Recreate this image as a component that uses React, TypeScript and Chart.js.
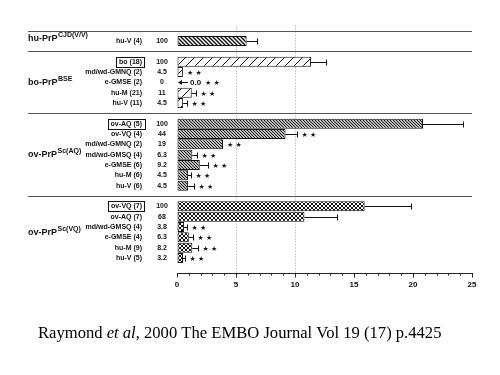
import React, { useEffect, useRef } from 'react';
import { Chart, registerables } from 'chart.js';

Chart.register(...registerables);

const groupNames = ['hu-PrP', 'bo-PrP', 'ov-PrP', 'ov-PrP'];
const groupSups = ['CJD(V/V)', 'BSE', 'Sc(AQ)', 'Sc(VQ)'];
const groupSizes = [1, 5, 7, 6];
const rowLabels = [
  'hu-V (4)',
  'bo (18)', 'md/wd-GMNQ (2)', 'e-GMSE (2)', 'hu-M (21)', 'hu-V (11)',
  'ov-AQ (5)', 'ov-VQ (4)', 'md/wd-GMNQ (2)', 'md/wd-GMSQ (4)', 'e-GMSE (6)', 'hu-M (6)', 'hu-V (6)',
  'ov-VQ (7)', 'ov-AQ (7)', 'md/wd-GMSQ (4)', 'e-GMSE (4)', 'hu-M (9)', 'hu-V (5)',
];
const percentLabels = [
  '100',
  '100', '4.5', '0', '11', '4.5',
  '100', '44', '19', '6.3', '9.2', '4.5', '4.5',
  '100', '68', '3.8', '6.3', '8.2', '3.2',
];
const means = [
  5.9,
  11.35, 0.5, 0, 1.25, 0.52,
  20.85, 9.2, 3.9, 1.3, 1.93, 0.94, 0.94,
  15.9, 10.8, 0.6, 1.0, 1.3, 0.51,
];
const errorTops: (number | null)[] = [
  6.8,
  12.6, null, null, 1.65, 0.85,
  24.2, 10.2, null, 1.7, 2.6, 1.2, 1.4,
  19.8, 13.6, 0.85, 1.35, 1.8, 0.7,
];
const significant = [
  false,
  false, true, true, true, true,
  false, true, true, true, true, true, true,
  false, false, true, true, true, true,
];
const references = [
  false,
  true, false, false, false, false,
  true, false, false, false, false, false, false,
  true, false, false, false, false, false,
];
const xTicks = [0, 5, 10, 15, 20, 25];
const caption = ['Raymond ', 'et al', ', 2000 The EMBO Journal Vol 19 (17) p.4425'];

// category layout: spacer before each group and one at the end
const categories: string[] = [];
const rowCat: number[] = [];
const rowGroup: number[] = [];
{
  let r = 0;
  groupSizes.forEach((n, g) => {
    categories.push('');
    for (let i = 0; i < n; i++) {
      rowCat.push(categories.length);
      rowGroup.push(g);
      categories.push(rowLabels[r]);
      r++;
    }
  });
  categories.push('');
}
const catValues: (number | null)[] = categories.map(() => null);
const catGroup: number[] = categories.map(() => -1);
rowCat.forEach((c, r) => {
  catValues[c] = means[r];
  catGroup[c] = rowGroup[r];
});

const SANS = '"Liberation Sans", Arial, sans-serif';

function makePattern(kind: number): CanvasPattern | string {
  const t = document.createElement('canvas');
  const size = kind === 1 ? 9 : kind === 2 ? 3 : 4;
  t.width = size;
  t.height = size;
  const c = t.getContext('2d');
  if (!c) return '#fff';
  c.fillStyle = '#fff';
  c.fillRect(0, 0, size, size);
  c.strokeStyle = '#111';
  c.lineWidth = kind === 0 ? 1.4 : kind === 2 ? 1.1 : 1;
  const back = () => {
    c.beginPath();
    c.moveTo(-1, -1); c.lineTo(size + 1, size + 1);
    c.moveTo(-1, size - 1); c.lineTo(1, size + 1);
    c.moveTo(size - 1, -1); c.lineTo(size + 1, 1);
    c.stroke();
  };
  const fwd = () => {
    c.beginPath();
    c.moveTo(-1, size + 1); c.lineTo(size + 1, -1);
    c.moveTo(-1, 1); c.lineTo(1, -1);
    c.moveTo(size - 1, size + 1); c.lineTo(size + 1, size - 1);
    c.stroke();
  };
  if (kind === 0 || kind === 2) back();
  if (kind === 1) fwd();
  if (kind === 3) { back(); fwd(); }
  return c.createPattern(t, 'repeat') || '#fff';
}

const overlay = {
  id: 'overlay',
  afterDraw(chart: any) {
    const ctx: CanvasRenderingContext2D = chart.ctx;
    const xs = chart.scales.x;
    const ys = chart.scales.y;
    const area = chart.chartArea;
    ctx.save();

    // separators
    ctx.strokeStyle = '#555';
    ctx.lineWidth = 1;
    categories.forEach((c, i) => {
      if (c === '' && i < categories.length - 1) {
        const py = Math.round(ys.getPixelForValue(i)) + 0.5;
        ctx.beginPath();
        ctx.moveTo(28, py);
        ctx.lineTo(area.right, py);
        ctx.stroke();
      }
    });

    // minor ticks
    ctx.strokeStyle = '#222';
    for (let v = 0; v <= 25; v++) {
      if (v % 5 === 0) continue;
      const px = Math.round(xs.getPixelForValue(v)) + 0.5;
      ctx.beginPath();
      ctx.moveTo(px, area.bottom);
      ctx.lineTo(px, area.bottom + 2);
      ctx.stroke();
    }

    // row labels, percentages, boxes
    ctx.fillStyle = '#111';
    ctx.textBaseline = 'middle';
    rowLabels.forEach((lab, r) => {
      const py = ys.getPixelForValue(rowCat[r]);
      ctx.font = `bold 7px ${SANS}`;
      ctx.textAlign = 'right';
      ctx.fillText(lab, 142, py);
      if (references[r]) {
        const w = ctx.measureText(lab).width;
        ctx.lineWidth = 1;
        ctx.strokeStyle = '#111';
        ctx.strokeRect(Math.round(142 - w - 3) + 0.5, Math.round(py - 5) + 0.5, Math.round(w + 5), 10);
      }
      ctx.textAlign = 'center';
      ctx.fillText(percentLabels[r], 162, py);
    });

    // group labels
    groupNames.forEach((name, g) => {
      const ys_ = rowCat.filter((_, r) => rowGroup[r] === g).map((c) => ys.getPixelForValue(c));
      const py = ys_.reduce((a, b) => a + b, 0) / ys_.length - (ys_.length === 1 ? 2 : 0);
      ctx.textAlign = 'left';
      ctx.font = `bold 9px ${SANS}`;
      ctx.fillText(name, 28, py);
      const w = ctx.measureText(name).width;
      ctx.font = `bold 7px ${SANS}`;
      ctx.fillText(groupSups[g], 28 + w + 0.5, py - 3.5);
    });

    // error bars, stars, zero marker
    const x0 = xs.getPixelForValue(0);
    means.forEach((m, r) => {
      const py = Math.round(ys.getPixelForValue(rowCat[r])) + 0.5;
      let end = xs.getPixelForValue(m);
      ctx.strokeStyle = '#111';
      ctx.fillStyle = '#111';
      ctx.lineWidth = 1;
      const e = errorTops[r];
      if (e !== null) {
        const ex = Math.round(xs.getPixelForValue(e)) + 0.5;
        ctx.beginPath();
        ctx.moveTo(end, py);
        ctx.lineTo(ex, py);
        ctx.moveTo(ex, py - 3);
        ctx.lineTo(ex, py + 3);
        ctx.stroke();
        end = ex;
      }
      if (m === 0) {
        ctx.beginPath();
        ctx.moveTo(x0 + 2, py);
        ctx.lineTo(x0 + 11, py);
        ctx.stroke();
        ctx.beginPath();
        ctx.moveTo(x0 + 1, py);
        ctx.lineTo(x0 + 5, py - 2.5);
        ctx.lineTo(x0 + 5, py + 2.5);
        ctx.closePath();
        ctx.fill();
        ctx.font = `bold 8px ${SANS}`;
        ctx.textAlign = 'left';
        ctx.fillText('0.0', x0 + 13, py);
        end = x0 + 13 + ctx.measureText('0.0').width;
      }
      if (significant[r]) {
        ctx.font = `7px "DejaVu Sans"`;
        ctx.textAlign = 'left';
        ctx.fillText('★ ★', end + 4, py + 0.5);
      }
    });

    // caption
    ctx.textBaseline = 'alphabetic';
    ctx.textAlign = 'left';
    ctx.fillStyle = '#000';
    let cx = 38;
    caption.forEach((part, i) => {
      ctx.font = `${i === 1 ? 'italic ' : ''}16.6px "Liberation Serif", "Times New Roman", serif`;
      ctx.fillText(part, cx, 338);
      cx += ctx.measureText(part).width;
    });
    ctx.restore();
  },
};

export default function App() {
  const ref = useRef<HTMLCanvasElement | null>(null);
  useEffect(() => {
    document.body.style.margin = '0';
    const canvas = ref.current;
    if (!canvas) return;
    const patterns = [0, 1, 2, 3].map((k) => makePattern(k));
    const chart = new Chart(canvas, {
      type: 'bar',
      data: {
        labels: categories,
        datasets: [
          {
            data: catValues,
            backgroundColor: (c: any) => {
              const g = catGroup[c.dataIndex];
              return g >= 0 ? patterns[g] : '#fff';
            },
            borderColor: '#111',
            borderWidth: (c: any) => (catValues[c.dataIndex] ? 1 : 0),
            borderSkipped: false,
            barPercentage: 0.97,
            categoryPercentage: 1,
          } as any,
        ],
      },
      options: {
        indexAxis: 'y',
        animation: false,
        responsive: false,
        devicePixelRatio: 1,
        layout: { padding: { left: 177, right: 28, top: 25.5, bottom: 0 } },
        plugins: {
          legend: { display: false },
          tooltip: { enabled: false },
          title: { display: false },
        },
        scales: {
          x: {
            type: 'linear',
            min: 0,
            max: 25,
            position: 'bottom',
            afterBuildTicks: (s: any) => {
              s.ticks = xTicks.map((v) => ({ value: v }));
            },
            afterFit: (s: any) => {
              s.height = 375 - 273.5;
            },
            ticks: {
              font: { family: SANS, size: 8, weight: 'bold' },
              color: '#111',
              padding: 2,
              maxRotation: 0,
            },
            grid: {
              color: (c: any) =>
                c.tick && (c.tick.value === 5 || c.tick.value === 10) ? '#9a9a9a' : 'rgba(0,0,0,0)',
              tickColor: '#222',
              tickLength: 4,
              lineWidth: 1,
            },
            border: { display: true, color: '#222', width: 1, dash: [1, 2] },
          },
          y: {
            type: 'category',
            display: false,
            offset: true,
          },
        },
      } as any,
      plugins: [overlay],
    });
    return () => chart.destroy();
  }, []);
  return <canvas ref={ref} width={500} height={375} style={{ display: 'block' }} />;
}
